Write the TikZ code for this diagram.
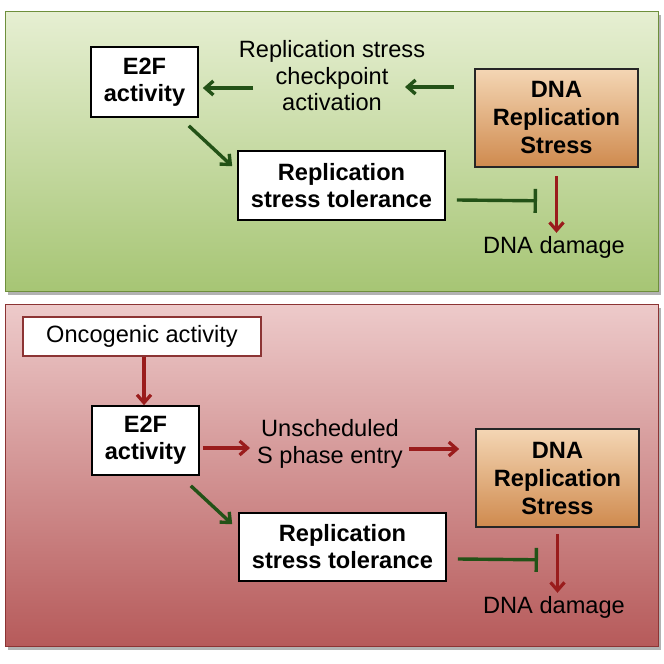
\documentclass[tikz,border=0pt]{standalone}
\usepackage{fontspec}
\setmainfont{Liberation Sans}
\usetikzlibrary{arrows.meta}

\definecolor{leafdark}{HTML}{235217}
\definecolor{bloodred}{HTML}{9A1C1C}
\definecolor{greentop}{HTML}{E6EFD2}
\definecolor{greenbot}{HTML}{A6C574}
\definecolor{greenrim}{HTML}{6E8F3C}
\definecolor{redtop}{HTML}{EDCACA}
\definecolor{redbot}{HTML}{B65A5A}
\definecolor{redrim}{HTML}{8C3434}
\definecolor{rusttop}{HTML}{F4D6B4}
\definecolor{rustbot}{HTML}{CF8A4E}

\begin{document}
\begin{tikzpicture}[x=1pt, y=1pt,
    every node/.style={font=\fontsize{23.6}{26.5}\selectfont, align=center, inner sep=0pt},
    whitebox/.style={draw=black, line width=1.6pt, fill=white,
        font=\fontsize{23.6}{27}\selectfont\bfseries},
    stressbox/.style={draw=black!85, line width=1.6pt,
        top color=rusttop, bottom color=rustbot,
        minimum width=163pt, minimum height=98pt,
        font=\fontsize{23.6}{28}\selectfont\bfseries},
    garrow/.style={leafdark, line width=3.4pt, -{Straight Barb[length=8pt,width=14pt]}},
    rarrow/.style={bloodred, line width=3.2pt, -{Straight Barb[length=8pt,width=14pt]}},
    blocker/.style={leafdark, line width=3.4pt, -{Bar[width=24pt]}},
]

    \useasboundingbox (0,0) rectangle (664,664);

    % ============================================================
    % PANELS (NORMAL CELL ABOVE, ONCOGENE-DRIVEN CELL BELOW)
    % ============================================================
    \fill[black!55, opacity=0.55] (8,369) rectangle (661,649);
    \shade[top color=greentop, bottom color=greenbot] (5,372) rectangle (658,652);
    \draw[greenrim, line width=1pt] (5,372) rectangle (658,652);

    \fill[black!55, opacity=0.55] (8,14) rectangle (661,356);
    \shade[top color=redtop, bottom color=redbot] (5,17) rectangle (658,359);
    \draw[redrim, line width=1pt] (5,17) rectangle (658,359);

    % ============================================================
    % TOP PANEL
    % ============================================================
    \node[whitebox, minimum width=107pt, minimum height=70pt] (e2fTop)
        at (144.5,582) {E2F\\activity};
    \node (chkTop) at (332,588)
        {Replication stress\\checkpoint\\activation};
    \node[stressbox] (dnaTop) at (556.5,546) {DNA\\Replication\\Stress};
    \node[whitebox, minimum width=207pt, minimum height=69pt] (rstTop)
        at (341.5,478.5) {Replication\\stress tolerance};
    \node (dmgTop) at (554,417) {DNA damage};

    \draw[garrow] ([shift={(-20,31)}]dnaTop.west)
        -- ([shift={(73,-11)}]chkTop.center);
    \draw[garrow] ([shift={(-79,-12)}]chkTop.center)
        -- ([shift={(4,-6)}]e2fTop.east);
    \draw[garrow] ([shift={(-10,-8)}]e2fTop.south east)
        -- ([shift={(-5,-16)}]rstTop.north west);
    \draw[blocker] ([shift={(11,-14.5)}]rstTop.east)
        -- ([shift={(-19.5,-33)}]dnaTop.south);
    \draw[rarrow] ([yshift=-8]dnaTop.south) -- ([yshift=3]dnaTop.south |- dmgTop.north);

    % ============================================================
    % BOTTOM PANEL
    % ============================================================
    \node[draw=redrim, line width=1.4pt, fill=white,
        minimum width=238pt, minimum height=39pt] (oncBot)
        at (142,327.5) {Oncogenic activity};
    \node[whitebox, minimum width=107pt, minimum height=69pt] (e2fBot)
        at (145.5,223.5) {E2F\\activity};
    \node (unsBot) at (330,220) {Unscheduled\\S phase entry};
    \node[stressbox] (dnaBot) at (557.5,186) {DNA\\Replication\\Stress};
    \node[whitebox, minimum width=207pt, minimum height=68pt] (rstBot)
        at (342.5,117) {Replication\\stress tolerance};
    \node (dmgBot) at (554,57) {DNA damage};

    \draw[rarrow] ([xshift=2]oncBot.south) -- ([xshift=-1.5]e2fBot.north);
    \draw[rarrow] ([shift={(3,-7.5)}]e2fBot.east)
        -- ([shift={(-80,-4)}]unsBot.center);
    \draw[rarrow] ([shift={(79,-5)}]unsBot.center)
        -- ([shift={(-16,29)}]dnaBot.west);
    \draw[garrow] ([shift={(-9,-10)}]e2fBot.south east)
        -- ([shift={(-6,-12)}]rstBot.north west);
    \draw[blocker] ([shift={(11,-12)}]rstBot.east)
        -- ([shift={(-19.5,-32)}]dnaBot.south);
    \draw[rarrow] ([yshift=-6]dnaBot.south) -- ([yshift=3]dnaBot.south |- dmgBot.north);

\end{tikzpicture}
\end{document}
